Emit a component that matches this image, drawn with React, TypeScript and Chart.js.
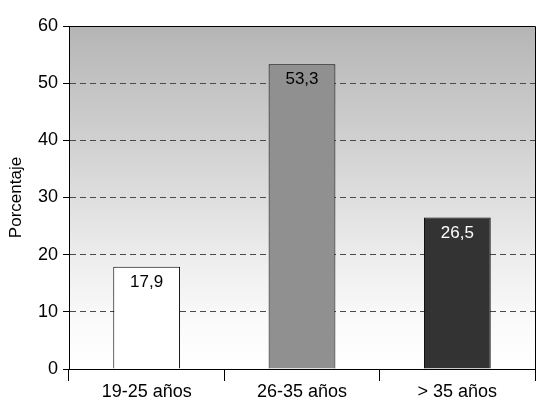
import React, { useEffect, useRef } from "react";
import { Chart, registerables } from "chart.js";

Chart.register(...registerables);

const categories = ["19-25 años", "26-35 años", "> 35 años"];
const values = [17.9, 53.3, 26.5];
const valueLabels = ["17,9", "53,3", "26,5"];
const barColors = ["#ffffff", "#909090", "#333333"];
const labelColors = ["#000000", "#000000", "#ffffff"];
const yTicks = [0, 10, 20, 30, 40, 50, 60];

const FONT = "'Liberation Sans', Arial, Helvetica, sans-serif";

const bgPlugin = {
  id: "bgPlugin",
  beforeDraw(chart: any) {
    const { ctx, chartArea } = chart;
    if (!chartArea) return;
    const g = ctx.createLinearGradient(0, chartArea.top, 0, chartArea.bottom);
    g.addColorStop(0, "#b5b5b5");
    g.addColorStop(0.5, "#dedede");
    g.addColorStop(0.7, "#efefef");
    g.addColorStop(0.88, "#fbfbfb");
    g.addColorStop(1, "#ffffff");
    ctx.save();
    ctx.fillStyle = g;
    ctx.fillRect(chartArea.left, chartArea.top, chartArea.right - chartArea.left, chartArea.bottom - chartArea.top);
    ctx.restore();
  },
  afterDatasetsDraw(chart: any) {
    const { ctx, chartArea } = chart;
    ctx.save();
    ctx.strokeStyle = "#000";
    ctx.lineWidth = 1;
    ctx.beginPath();
    ctx.moveTo(chartArea.left, chartArea.top + 0.5);
    ctx.lineTo(chartArea.right + 0.5, chartArea.top + 0.5);
    ctx.lineTo(chartArea.right + 0.5, chartArea.bottom);
    ctx.stroke();
    const meta = chart.getDatasetMeta(0);
    ctx.font = `17px ${FONT}`;
    ctx.textAlign = "center";
    ctx.textBaseline = "top";
    meta.data.forEach((el: any, i: number) => {
      ctx.fillStyle = labelColors[i];
      ctx.fillText(valueLabels[i], el.x, el.y + 7);
    });
    ctx.restore();
  },
};

export default function App() {
  const ref = useRef<HTMLCanvasElement | null>(null);
  useEffect(() => {
    document.body.style.margin = "0";
    const chart = new Chart(ref.current!, {
      type: "bar",
      data: {
        labels: categories,
        datasets: [
          {
            data: values,
            backgroundColor: barColors,
            borderColor: "#000",
            borderWidth: 1,
            barPercentage: 0.43,
            categoryPercentage: 1,
          },
        ],
      },
      options: {
        animation: false,
        responsive: false,
        maintainAspectRatio: false,
        layout: { padding: { top: 26, right: 23, left: 0, bottom: 0 } },
        plugins: { legend: { display: false }, tooltip: { enabled: false } },
        scales: {
          x: {
            afterFit(scale: any) {
              scale.height = 40;
            },
            grid: {
              offset: true,
              drawOnChartArea: false,
              drawTicks: true,
              tickLength: 12,
              color: "#000",
            },
            border: { display: true, color: "#000", width: 1 },
            ticks: { color: "#000", font: { size: 18, family: FONT }, padding: 0 },
          },
          y: {
            min: 0,
            max: 60,
            afterFit(scale: any) {
              scale.width = 69;
            },
            afterBuildTicks(scale: any) {
              scale.ticks = yTicks.map((v) => ({ value: v }));
            },
            grid: {
              color: (c: any) => (c.tick && (c.tick.value === 0 || c.tick.value === 60) ? "rgba(0,0,0,0)" : "#4a4a4a"),
              tickColor: "#000",
              tickBorderDash: [],
              tickLength: 6,
              lineWidth: 1,
            } as any,
            border: { display: true, color: "#000", width: 1, dash: [6, 4] },
            ticks: { color: "#000", font: { size: 18, family: FONT }, padding: 5 },
            title: {
              display: true,
              text: "Porcentaje",
              color: "#000",
              font: { size: 17, family: FONT },
              padding: { top: 6, bottom: 0 },
            },
          },
        },
      } as any,
      plugins: [bgPlugin],
    });
    return () => chart.destroy();
  }, []);
  return (
    <div style={{ width: 558, height: 409 }}>
      <canvas ref={ref} width={558} height={409} style={{ width: 558, height: 409 }} />
    </div>
  );
}
